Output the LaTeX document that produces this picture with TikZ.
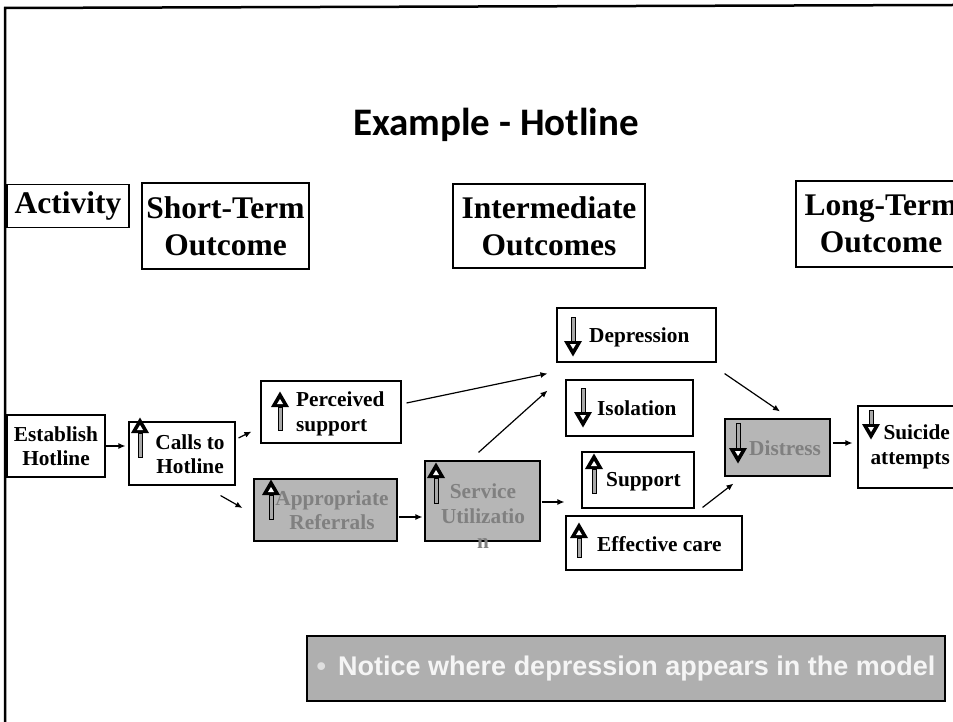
\documentclass[tikz,border=0pt]{standalone}
\usepackage{fontspec}
\setmainfont{Liberation Serif}
\newfontfamily\titlefont{Carlito}
\newfontfamily\bannerfont{Liberation Sans}
\usetikzlibrary{arrows.meta}

\definecolor{shade}{HTML}{B6B6B6}
\definecolor{fadedtext}{HTML}{808080}
\definecolor{bannerfill}{HTML}{AFAFAF}
\definecolor{shaftgray}{HTML}{A8A8A8}

\tikzset{
  box/.style={draw, line width=1.1pt, inner sep=0pt},
  shadedbox/.style={box, fill=shade},
  hdr/.style={font=\fontsize{31.5}{37}\selectfont\bfseries, align=center, inner sep=0pt},
  lbl/.style={font=\fontsize{21.3}{24.5}\selectfont\bfseries, inner sep=0pt},
  faded/.style={lbl, text=fadedtext},
  link/.style={line width=1.2pt, -{Latex[length=7pt,width=6pt]}},
  % increase marker: hollow head on top, shaft below
  pics/upmark/.style={code={
    \fill (0,-0.5) -- (-9,15) -- (9,15) -- cycle;
    \fill[white] (0,7) -- (-3,12) -- (3,12) -- cycle;
    \draw[line width=0.7pt, fill=shaftgray] (-1.9,15) rectangle (1.9,#1);
  }},
  % decrease marker: shaft on top, hollow head below
  pics/downmark/.style={code={
    \fill (0,0.5) -- (-9,-15) -- (9,-15) -- cycle;
    \fill[white] (0,-7) -- (-3,-12) -- (3,-12) -- cycle;
    \draw[line width=0.7pt, fill=shaftgray] (-1.9,-15) rectangle (1.9,-#1);
  }},
}

\begin{document}
\begin{tikzpicture}[x=1pt, y=-1pt]
\useasboundingbox (0,0) rectangle (953,722);

% slide frame
\draw[line width=2.5pt] (5,722) -- (5,8) -- (953,5);

% title
\node[font=\titlefont\bfseries\fontsize{39}{44}\selectfont] (title) at (496,125) {Example - Hotline};

% column headings
\node[box, hdr, minimum width=122, minimum height=43] (act) at (68,206) {Activity};
\node[box, hdr, minimum width=167, minimum height=86] (short) at (225.5,226) {Short-Term\\Outcome};
\node[box, hdr, minimum width=192, minimum height=84] (inter) at (549,226) {Intermediate\\Outcomes};
\node[box, hdr, minimum width=170, minimum height=86] (long) at (881,224) {Long-Term\\Outcome};

% boxes
\node[box, minimum width=98, minimum height=62] (est) at (56,446) {};
\node[box, minimum width=106, minimum height=63] (calls) at (182,453.5) {};
\node[box, minimum width=140, minimum height=62] (perc) at (331,412) {};
\node[shadedbox, minimum width=143, minimum height=62] (appr) at (325.5,510) {};
\node[shadedbox, minimum width=115, minimum height=80] (serv) at (482.5,501) {};
\node[box, minimum width=159, minimum height=54] (dep) at (636.5,335) {};
\node[box, minimum width=127, minimum height=56] (iso) at (629.5,408) {};
\node[box, minimum width=112, minimum height=56] (sup) at (638,480) {};
\node[box, minimum width=176, minimum height=54] (eff) at (654,543) {};
\node[shadedbox, minimum width=105, minimum height=57] (dist) at (777.5,447.5) {};
\node[box, minimum width=106, minimum height=82] (sui) at (911,447) {};

% box texts
\node[lbl, align=center] (est-t) at (56,446) {Establish\\Hotline};
\node[lbl, align=center] (calls-t) at (190,454) {Calls to\\Hotline};
\node[lbl, align=left, anchor=west] (perc-t) at (296,414) {Perceived\\support};
\node[faded, align=center] (appr-t) at (332,510) {Appropriate\\Referrals};
\node[faded, align=center, font=\fontsize{21.3}{25}\selectfont\bfseries] (serv-t) at (483,516) {Service\\Utilizatio\\n};
\node[lbl, anchor=west] (dep-t) at (589,337) {Depression};
\node[lbl, anchor=west] (iso-t) at (597,408) {Isolation};
\node[lbl, anchor=west] (sup-t) at (606,482) {Support};
\node[lbl, anchor=west] (eff-t) at (597,544) {Effective care};
\node[faded, anchor=west] (dist-t) at (749,448) {Distress};
\node[lbl, align=right, anchor=east] (sui-t) at (950,447) {Suicide\\attempts};

% direction markers
\pic at (140,418) {upmark=39};
\pic at (280,392) {upmark=38};
\pic at (271,480) {upmark=39};
\pic at (436,463) {upmark=40};
\pic at (594,454) {upmark=39};
\pic at (579,523) {upmark=34};
\pic at (573,356) {downmark=39};
\pic at (583,427) {downmark=39};
\pic at (738,463) {downmark=40};
\pic at (871,439) {downmark=29};

% connectors
\draw[link, shorten >=3pt] (est.east) -- (est.east -| calls.west);
\draw[link] ([shift={(3,-15.5)}]calls.east) -- ([shift={(-9,-12)}]perc.south west);
\draw[link] ([shift={(-15,10)}]calls.south east) -- ([shift={(-11,-2)}]appr.west);
\draw[link] ([shift={(5,-9)}]perc.east) -- ([shift={(-9,11)}]dep.south west);
\draw[link] ([shift={(-4,-8)}]serv.north) -- ([shift={(-9,28)}]dep.south west);
\draw[link, shorten >=3pt] ([shift={(1,7)}]appr.east) -- ([shift={(1,7)}]appr.east -| serv.west);
\draw[link] ([shift={(1,1)}]serv.east) -- ([shift={(-17,22)}]sup.west);
\draw[link] ([shift={(8,11)}]dep.south east) -- ([shift={(2.5,-7)}]dist.north);
\draw[link] ([shift={(-40,-8)}]eff.north east) -- ([shift={(9,7)}]dist.south west);
\draw[link] ([shift={(2,-4.5)}]dist.east) -- ([shift={(-5,-4)}]sui.west);

% note banner
\node[draw, line width=1.2pt, fill=bannerfill, minimum width=638, minimum height=65,
      text=white!92!gray, font=\bannerfont\bfseries\fontsize{27}{30}\selectfont] (note) at (626,668.5)
      {{\color{white!75!gray}\textbullet}\hspace{0.45em}Notice where depression appears in the model};
\end{tikzpicture}
\end{document}
